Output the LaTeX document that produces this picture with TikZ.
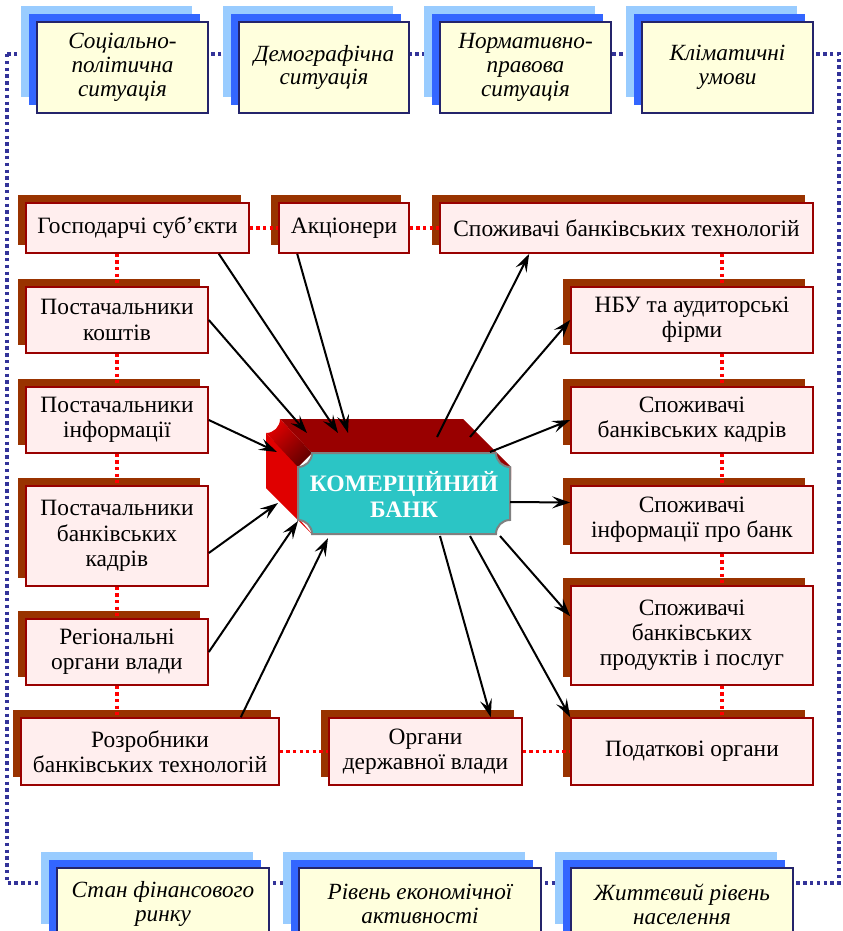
\documentclass[tikz,border=0pt]{standalone}
\usepackage{fontspec}
\setmainfont{Liberation Serif}
\usepackage{xcolor}
\usetikzlibrary{shadows,calc,arrows.meta}
\definecolor{Rose}{RGB}{255,238,238}
\definecolor{Brique}{RGB}{153,51,0}
\definecolor{Bordeaux}{RGB}{153,0,0}
\definecolor{Creme}{RGB}{255,255,221}
\definecolor{CielClair}{RGB}{153,204,255}
\definecolor{CielFonce}{RGB}{51,102,255}
\definecolor{Marine}{RGB}{51,51,153}
\definecolor{Turquoise}{RGB}{43,197,197}
\definecolor{Rouge}{RGB}{224,0,0}
\definecolor{Ombre}{RGB}{100,0,0}
\tikzset{
EnvBox/.style={
 draw=Marine!70!black, 
 line width=0.6pt, 
 fill=Creme, 
 inner sep=0pt, 
 align=center, 
 font=\itshape\fontsize{11.6}{11.9}\selectfont,
 copy shadow={shadow xshift=-8pt, shadow yshift=8pt, fill=CielClair, draw=none},
 copy shadow={shadow xshift=-4pt, shadow yshift=4pt, fill=CielFonce, draw=none}
 },
AgentBox/.style={
 draw=Bordeaux, 
 line width=0.8pt, 
 fill=Rose, 
 inner sep=0pt, 
 align=center, 
 font=\fontsize{11.7}{12.6}\selectfont,
 copy shadow={shadow xshift=-4pt, shadow yshift=4pt, fill=Brique, draw=none}
 },
EnvLigne/.style={
 draw=Marine, 
 line width=1.7pt, 
 dash pattern=on 1.7pt off 1.7pt
 },
Lien/.style={
 draw=red, 
 line width=1.6pt, 
 dash pattern=on 1.6pt off 1.7pt
 },
Fleche/.style={
 draw=black, 
 line width=1pt, 
 -{Stealth[length=9pt,width=6pt,inset=3.5pt]}
 }
}

\begin{document}
\begin{tikzpicture}[x=0.5pt,y=-0.5pt]
\clip (0,0) rectangle (842,931);
\coordinate (cadre-no) at (7,54);
\coordinate (cadre-se) at (839,883);
\draw[EnvLigne] (cadre-no) rectangle (cadre-se);

\node[EnvBox, minimum width=85.5pt, minimum height=45.5pt] (soc) at (122.5,67.5) {Соціально-\\політична\\ситуація};
\node[EnvBox, minimum width=85pt, minimum height=45.5pt] (demo) at (324,67.5) {Демографічна\\ситуація};
\node[EnvBox, minimum width=85.5pt, minimum height=45.5pt] (norm) at (525.5,67.5) {Нормативно-\\правова\\ситуація};
\node[EnvBox, minimum width=85.5pt, minimum height=45.5pt] (klim) at (727.5,67.5) {Кліматичні\\умови};
\node[EnvBox, minimum width=106pt, minimum height=36pt] (stan) at (163,904) {Стан фінансового\\ринку};
\node[EnvBox, minimum width=121pt, minimum height=36pt] (riven) at (420,904) {Рівень економічної\\активності};
\node[EnvBox, minimum width=111pt, minimum height=36pt] (zhyt) at (682,904) {Життєвий рівень\\населення};

\node[AgentBox, minimum width=111.5pt, minimum height=25pt] (gosp) at (137.5,228) {Господарчі суб’єкти};
\node[AgentBox, minimum width=65pt, minimum height=25pt] (akc) at (344,228) {Акціонери};
\node[AgentBox, minimum width=186.5pt, minimum height=25pt] (sptech) at (626.5,228) {Споживачі банківських технологій};
\node[AgentBox, minimum width=91pt, minimum height=33pt] (kosht) at (117,320) {Постачальники\\коштів};
\node[AgentBox, minimum width=121pt, minimum height=33pt] (nbu) at (692,320) {НБУ та аудиторські\\фірми};
\node[AgentBox, minimum width=91pt, minimum height=33pt] (info) at (117,420) {Постачальники\\інформації};
\node[AgentBox, minimum width=121pt, minimum height=33pt] (spkadr) at (692,420) {Споживачі\\банківських кадрів};
\node[AgentBox, minimum width=91pt, minimum height=50pt] (kadry) at (117,536) {Постачальники\\банківських\\кадрів};
\node[AgentBox, minimum width=121pt, minimum height=33.5pt] (spinfo) at (692,519.5) {Споживачі\\інформації про банк};
\node[AgentBox, minimum width=91pt, minimum height=33pt] (region) at (117,652) {Регіональні\\органи влади};
\node[AgentBox, minimum width=121pt, minimum height=49.5pt] (spprod) at (692,635.5) {Споживачі\\банківських\\продуктів і послуг};
\node[AgentBox, minimum width=129pt, minimum height=33.5pt] (rozr) at (150,751.5) {Розробники\\банківських технологій};
\node[AgentBox, minimum width=96.5pt, minimum height=33.5pt] (organy) at (425.5,751.5) {Органи\\державної влади};
\node[AgentBox, minimum width=121pt, minimum height=33.5pt] (podat) at (692,751.5) {Податкові органи};

\coordinate (axe) at (722,0);
\draw[Lien] (gosp.east) -- (akc.west);
\draw[Lien] (akc.east) -- (sptech.west);
\draw[Lien] (gosp.south -| kosht.south) -- (kosht.north);
\draw[Lien] (kosht.south) -- (info.north);
\draw[Lien] (info.south) -- (kadry.north);
\draw[Lien] (kadry.south) -- (region.north);
\draw[Lien] (region.south) -- (rozr.north -| region.south);
\draw[Lien] (rozr.east) -- (organy.west);
\draw[Lien] (organy.east) -- (podat.west);
\draw[Lien] (sptech.south -| axe) -- (nbu.north -| axe);
\draw[Lien] (nbu.south -| axe) -- (spkadr.north -| axe);
\draw[Lien] (spkadr.south -| axe) -- (spinfo.north -| axe);
\draw[Lien] (spinfo.south -| axe) -- (spprod.north -| axe);
\draw[Lien] (spprod.south -| axe) -- (podat.north -| axe);

% la banque en relief
\fill[Bordeaux] (280,419) -- (463,419) -- (511,467) -- (511,480) -- (312,480) -- (312,453) -- cycle;
\fill[Rouge] (266,433) -- (300,467) -- (300,520) -- (313,535) -- (266,488) -- cycle;
\shade[left color=Rouge, right color=Ombre, shading angle=45] (280,419) -- (312,453) -- (298,467) -- (266,433) arc[start angle=90, end angle=0, radius=14] -- cycle;
\filldraw[fill=Turquoise, draw=gray, line width=1pt] (312,453) -- (496,453) arc[start angle=180, end angle=90, radius=14] -- (510,520) arc[start angle=270, end angle=180, radius=14] -- (312,534) arc[start angle=0, end angle=-90, radius=14] -- (298,467) arc[start angle=90, end angle=0, radius=14] -- cycle;
\node[font=\bfseries\fontsize{11.8}{13}\selectfont, text=white, align=center] (banque) at (404,494) {КОМЕРЦІЙНИЙ\\БАНК};

\coordinate (in-gosp) at (338,433);
\coordinate (in-akc) at (348,433);
\coordinate (in-kosht) at (307,433);
\coordinate (in-info) at (277,452);
\coordinate (in-kadry) at (278,503);
\coordinate (in-region) at (298,521);
\coordinate (in-rozr) at (328,538);
\coordinate (out-sptech) at (437,437);
\coordinate (out-nbu) at (470,437);
\coordinate (out-spkadr) at (490,452);
\coordinate (out-spinfo) at (510,502);
\coordinate (out-spprod) at (500,536);
\coordinate (out-podat) at (470,536);
\coordinate (out-organy) at (440,536);

\draw[Fleche] ($(gosp.south east)+(-31,0)$) -- (in-gosp);
\draw[Fleche] ($(akc.south west)+(19,0)$) -- (in-akc);
\draw[Fleche] (kosht.east) -- (in-kosht);
\draw[Fleche] (info.east) -- (in-info);
\draw[Fleche] ($(kadry.east)+(0,17)$) -- (in-kadry);
\draw[Fleche] (region.east) -- (in-region);
\draw[Fleche] ($(rozr.north east)+(-39,0)$) -- (in-rozr);
\draw[Fleche] (out-sptech) -- ($(sptech.south west)+(90,0)$);
\draw[Fleche] (out-nbu) -- (nbu.west);
\draw[Fleche] (out-spkadr) -- (spkadr.west);
\draw[Fleche] (out-spinfo) -- ($(spinfo.west)+(0,-17)$);
\draw[Fleche] (out-spprod) -- ($(spprod.north west)+(0,31)$);
\draw[Fleche] (out-podat) -- (podat.north west);
\draw[Fleche] (out-organy) -- ($(organy.north east)+(-32,0)$);
\end{tikzpicture}
\end{document}
